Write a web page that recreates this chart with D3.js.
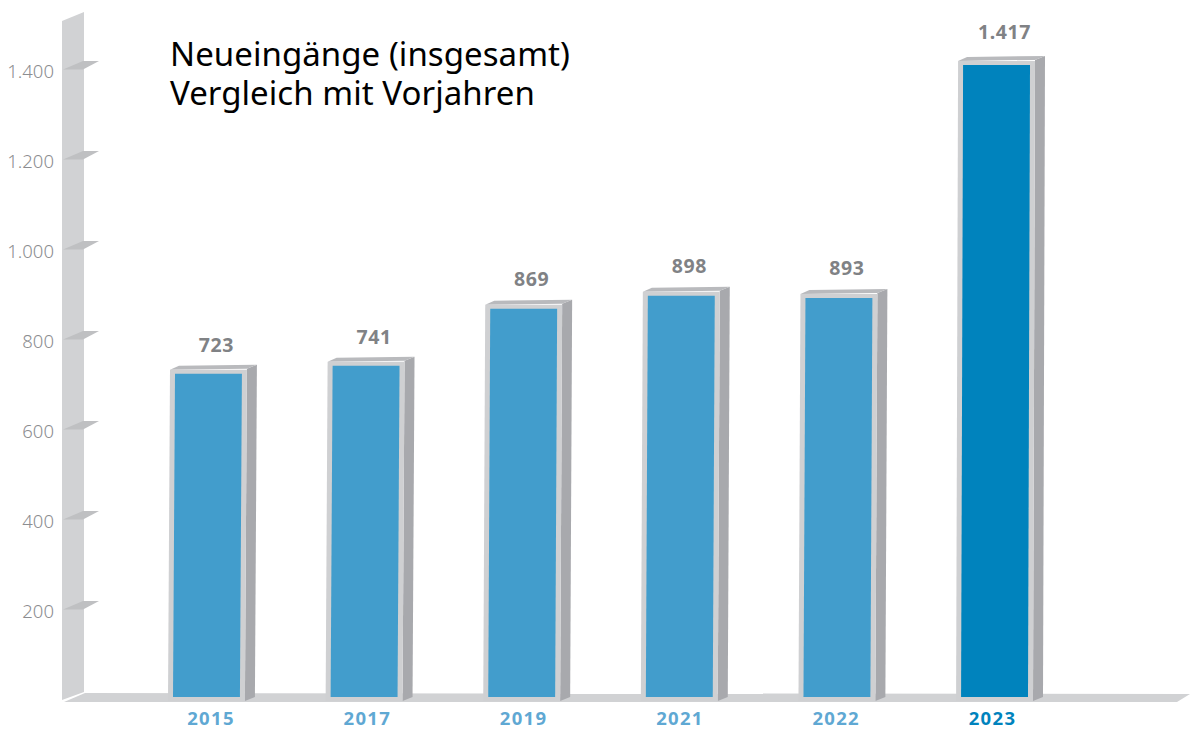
<!DOCTYPE html>
<html lang="de">
<head>
<meta charset="utf-8">
<title>Neueingänge (insgesamt)</title>
<script src="https://d3js.org/d3.v7.min.js"></script>
<style>
body { margin: 0; background: #fff; }
svg { display: block; }
text { font-family: "Noto Sans", sans-serif; }
</style>
</head>
<body>
<script>
// data
var years = ["2015", "2017", "2019", "2021", "2022", "2023"];
var values = [723, 741, 869, 898, 893, 1417];
var tickValues = [200, 400, 600, 800, 1000, 1200, 1400];
var titleLines = ["Neueingänge (insgesamt)", "Vergleich mit Vorjahren"];

var de = d3.formatLocale({decimal: ",", thousands: ".", grouping: [3], currency: ["", "€"]});
var fmt = de.format(",d");

var canvas = d3.select("body").append("svg").attr("width", 1192).attr("height", 731);

var x = d3.scaleBand().domain(years).range([168, 1033]).paddingInner(0.512);
// year labels run on a slightly tighter step than the bars
var xLabel = d3.scalePoint().domain(years).range([211, 992.5]);
// the wall ticks and the bars sit on different planes of the fake 3d
var yAxis = d3.scaleLinear().domain([0, 1400]).range([699, 69]);
var yBar = d3.scaleLinear().domain([0, 1417]).range([691.5, 60.9]);

function pts(a) { return a.map(function(p) { return p.join(","); }).join(" "); }

// wall
canvas.append("polygon").attr("points", pts([[62, 21], [84, 12], [84, 692], [62, 700]])).attr("fill", "#d1d2d4");
// floor
canvas.append("polygon").attr("points", pts([[85, 693], [1190, 694], [1177, 702], [64, 702]])).attr("fill", "#d1d2d4");

// axis
var axis = canvas.append("g").attr("transform", "translate(55,0)")
	.call(d3.axisLeft(yAxis).tickValues(tickValues).tickSize(0).tickPadding(0).tickFormat(fmt));
axis.select(".domain").remove();
axis.selectAll("text")
	.attr("font-size", 18.5)
	.attr("font-weight", 300)
	.attr("fill", "#8c8d90")
	.attr("x", -1)
	.attr("y", 3)
	.style("font-family", '"Noto Sans", sans-serif');
axis.selectAll(".tick").append("polygon")
	.attr("points", pts([[8, 0], [28, -8.5], [44, -8.5], [28, 0]]))
	.attr("fill", "#bfc0c2");

// bars
var bar = canvas.selectAll("g.bar").data(years).enter().append("g").attr("class", "bar");

function left(d) { return x(d); }
function right(d) { return x(d) + x.bandwidth(); }
function topY(d, i) { return yBar(values[i]); }
var bottomY = 701;
var lean = 2;

// side
bar.append("polygon").attr("fill", "#a8a9ad").attr("points", function(d, i) {
	var t = topY(d, i);
	return pts([[right(d) + lean, t - 1], [right(d) + lean + 10, t - 5], [right(d) + 10, bottomY - 4], [right(d), bottomY]]);
});
// top
bar.append("polygon").attr("fill", "#b9babd").attr("points", function(d, i) {
	var t = topY(d, i);
	return pts([[left(d) + lean, t], [left(d) + lean + 9, t - 4], [right(d) + lean + 10, t - 5], [right(d) + lean, t - 1]]);
});
// frame
bar.append("polygon").attr("fill", "#cfd0d2").attr("points", function(d, i) {
	var t = topY(d, i);
	return pts([[left(d) + lean, t], [right(d) + lean, t], [right(d), bottomY], [left(d), bottomY]]);
});
// blue front
bar.append("polygon")
	.attr("fill", function(d) { return d === "2023" ? "#0083bd" : "#429dcc"; })
	.attr("points", function(d, i) {
		var t = topY(d, i) + 4;
		return pts([[left(d) + lean + 5, t], [right(d) + lean - 5, t], [right(d) - 5, 697], [left(d) + 5, 697]]);
	});

// value labels
bar.append("text")
	.attr("x", function(d) { return x(d) + x.bandwidth() / 2 + 10; })
	.attr("y", function(d, i) { return yAxis(values[i]) - 22; })
	.attr("text-anchor", "middle")
	.attr("font-size", 19.5)
	.attr("font-weight", 700)
	.attr("letter-spacing", 0.6)
	.attr("fill", "#808285")
	.text(function(d, i) { return fmt(values[i]); });

// year labels
bar.append("text")
	.attr("x", function(d) { return xLabel(d); })
	.attr("y", 725)
	.attr("text-anchor", "middle")
	.attr("font-size", 18.5)
	.attr("font-weight", 700)
	.attr("letter-spacing", 1.3)
	.attr("fill", function(d) { return d === "2023" ? "#0083bd" : "#5fa8d3"; })
	.text(function(d) { return d; });

// title
var title = canvas.append("text")
	.attr("y", 65.5)
	.attr("font-size", 33)
	.attr("letter-spacing", 0.05)
	.attr("fill", "#000");
title.selectAll("tspan").data(titleLines).enter().append("tspan")
	.attr("x", 170)
	.attr("dy", function(d, i) { return i ? 39 : 0; })
	.text(function(d) { return d; });
</script>
</body>
</html>
